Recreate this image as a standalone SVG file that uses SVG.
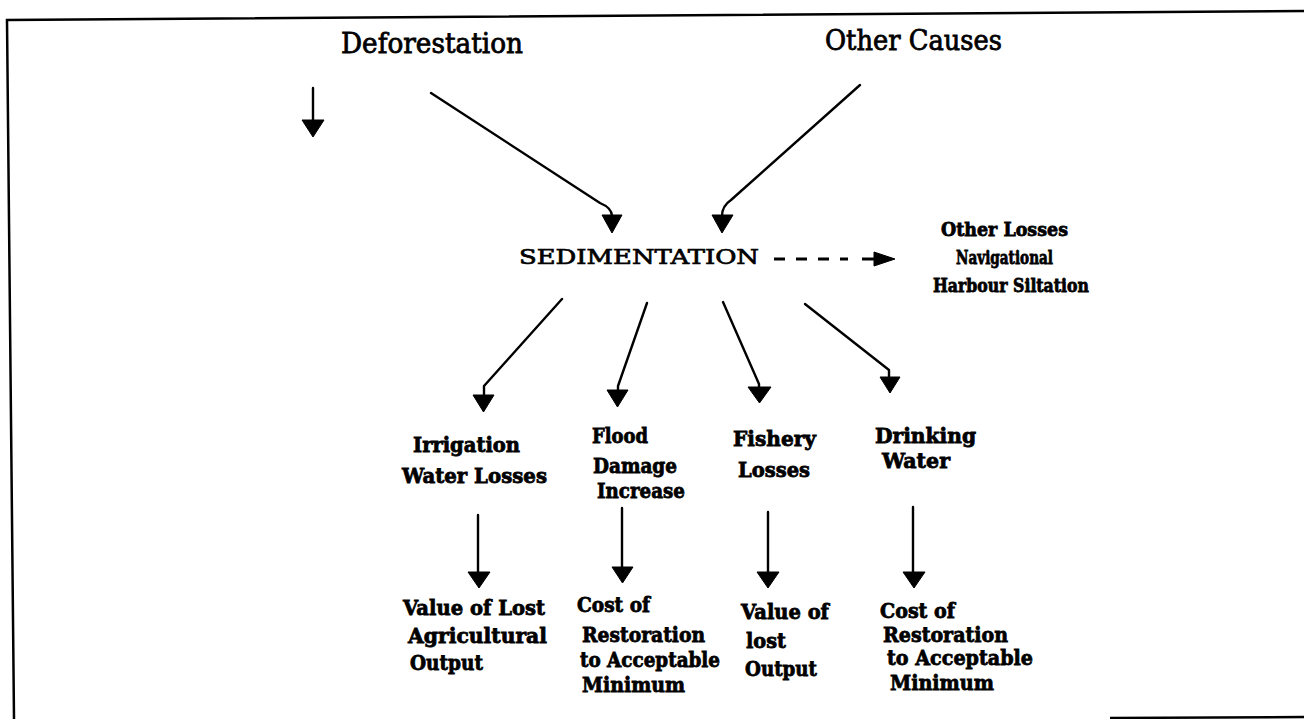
<svg xmlns="http://www.w3.org/2000/svg" width="1304" height="719" viewBox="0 0 1304 719">
<style>
.frame{fill:none;stroke:#000;stroke-width:2.5}
.ln{fill:none;stroke:#000;stroke-width:2.4;stroke-linecap:round;stroke-linejoin:round}
.dash{fill:none;stroke:#000;stroke-width:3}
.hd{fill:#000;stroke:#000;stroke-width:1;stroke-linejoin:round}
.top{font-family:"DejaVu Serif","Liberation Serif",serif;font-size:27px;fill:#000;stroke:#000;stroke-width:0.8}
.sed{font-family:"DejaVu Serif","Liberation Serif",serif;font-size:21px;fill:#000;stroke:#000;stroke-width:0.7}
.lb{font-family:"DejaVu Serif","Liberation Serif",serif;font-size:21px;font-weight:bold;fill:#000;stroke:#000;stroke-width:0.8}
.sm{font-family:"DejaVu Serif","Liberation Serif",serif;font-size:19px;font-weight:bold;fill:#000;stroke:#000;stroke-width:0.8}
</style>
<rect width="1304" height="719" fill="#fff"/>
<g id="frame">
<polyline class="frame" points="1304,11 7,20 14,719"/>
<line class="frame" x1="1110" y1="718" x2="1304" y2="717"/>
</g>
<g id="connectors">
<line class="ln" x1="313" y1="88" x2="313" y2="122"/>
<polygon class="hd" points="302,120 324,120 313,137"/>
<path class="ln" d="M431,93 L600,203 Q612,208 612,216"/>
<polygon class="hd" points="602,215 622,215 612,233"/>
<path class="ln" d="M860,85 L731,200 Q722,206 722,216"/>
<polygon class="hd" points="712,215 733,215 722,233"/>
<line class="dash" x1="774" y1="259" x2="848" y2="259" stroke-dasharray="11 11"/>
<line class="dash" x1="862" y1="259" x2="878" y2="259"/>
<polygon class="hd" points="874,252 874,266 895,259"/>
<path class="ln" d="M562,299 L484,386 L484,396"/>
<polygon class="hd" points="473,395 494,395 483.5,412"/>
<path class="ln" d="M647,303 L618,386 L618,391"/>
<polygon class="hd" points="607,390 628,390 617.5,407"/>
<path class="ln" d="M723,302 L759,384 L759,388"/>
<polygon class="hd" points="748,387 771,387 759.5,403"/>
<path class="ln" d="M805,304 L889,370 L889,378"/>
<polygon class="hd" points="880,377 900,377 890,393"/>
<line class="ln" x1="478" y1="515" x2="478" y2="574"/>
<polygon class="hd" points="468,572 490,572 479,588"/>
<line class="ln" x1="622" y1="508" x2="622" y2="569"/>
<polygon class="hd" points="612,567 633,567 622.5,583"/>
<line class="ln" x1="768" y1="512" x2="768" y2="574"/>
<polygon class="hd" points="757,572 779,572 768,588"/>
<line class="ln" x1="913" y1="507" x2="913" y2="574"/>
<polygon class="hd" points="903,572 925,572 914,588"/>
</g>
<g id="deforestation"><text class="top" x="341" y="53" textLength="182" lengthAdjust="spacingAndGlyphs">Deforestation</text></g>
<g id="other-causes"><text class="top" x="825" y="50" textLength="177" lengthAdjust="spacingAndGlyphs">Other Causes</text></g>
<g id="sedimentation"><text class="sed" x="519" y="264" textLength="240" lengthAdjust="spacingAndGlyphs">SEDIMENTATION</text></g>
<g id="other-losses">
<text class="sm" x="941" y="236" textLength="127" lengthAdjust="spacingAndGlyphs">Other Losses</text>
<text class="sm" x="956" y="264" textLength="97" lengthAdjust="spacingAndGlyphs">Navigational</text>
<text class="sm" x="933" y="292" textLength="156" lengthAdjust="spacingAndGlyphs">Harbour Siltation</text>
</g>
<g id="irrigation">
<text class="lb" x="413" y="452" textLength="107" lengthAdjust="spacingAndGlyphs">Irrigation</text>
<text class="lb" x="402" y="483" textLength="145" lengthAdjust="spacingAndGlyphs">Water Losses</text>
</g>
<g id="flood">
<text class="lb" x="592" y="443" textLength="56" lengthAdjust="spacingAndGlyphs">Flood</text>
<text class="lb" x="593" y="473" textLength="84" lengthAdjust="spacingAndGlyphs">Damage</text>
<text class="lb" x="597" y="498" textLength="88" lengthAdjust="spacingAndGlyphs">Increase</text>
</g>
<g id="fishery">
<text class="lb" x="733" y="446" textLength="83" lengthAdjust="spacingAndGlyphs">Fishery</text>
<text class="lb" x="738" y="477" textLength="72" lengthAdjust="spacingAndGlyphs">Losses</text>
</g>
<g id="drinking">
<text class="lb" x="875" y="443" textLength="101" lengthAdjust="spacingAndGlyphs">Drinking</text>
<text class="lb" x="882" y="468" textLength="68" lengthAdjust="spacingAndGlyphs">Water</text>
</g>
<g id="value-agri">
<text class="lb" x="403" y="615" textLength="142" lengthAdjust="spacingAndGlyphs">Value of Lost</text>
<text class="lb" x="408" y="643" textLength="139" lengthAdjust="spacingAndGlyphs">Agricultural</text>
<text class="lb" x="410" y="670" textLength="73" lengthAdjust="spacingAndGlyphs">Output</text>
</g>
<g id="cost-flood">
<text class="lb" x="577" y="612" textLength="73" lengthAdjust="spacingAndGlyphs">Cost of</text>
<text class="lb" x="582" y="642" textLength="123" lengthAdjust="spacingAndGlyphs">Restoration</text>
<text class="lb" x="580" y="667" textLength="140" lengthAdjust="spacingAndGlyphs">to Acceptable</text>
<text class="lb" x="582" y="692" textLength="103" lengthAdjust="spacingAndGlyphs">Minimum</text>
</g>
<g id="value-fish">
<text class="lb" x="741" y="619" textLength="88" lengthAdjust="spacingAndGlyphs">Value of</text>
<text class="lb" x="746" y="648" textLength="40" lengthAdjust="spacingAndGlyphs">lost</text>
<text class="lb" x="745" y="676" textLength="72" lengthAdjust="spacingAndGlyphs">Output</text>
</g>
<g id="cost-drink">
<text class="lb" x="880" y="618" textLength="75" lengthAdjust="spacingAndGlyphs">Cost of</text>
<text class="lb" x="883" y="642" textLength="125" lengthAdjust="spacingAndGlyphs">Restoration</text>
<text class="lb" x="887" y="665" textLength="146" lengthAdjust="spacingAndGlyphs">to  Acceptable</text>
<text class="lb" x="890" y="690" textLength="104" lengthAdjust="spacingAndGlyphs">Minimum</text>
</g>
</svg>
